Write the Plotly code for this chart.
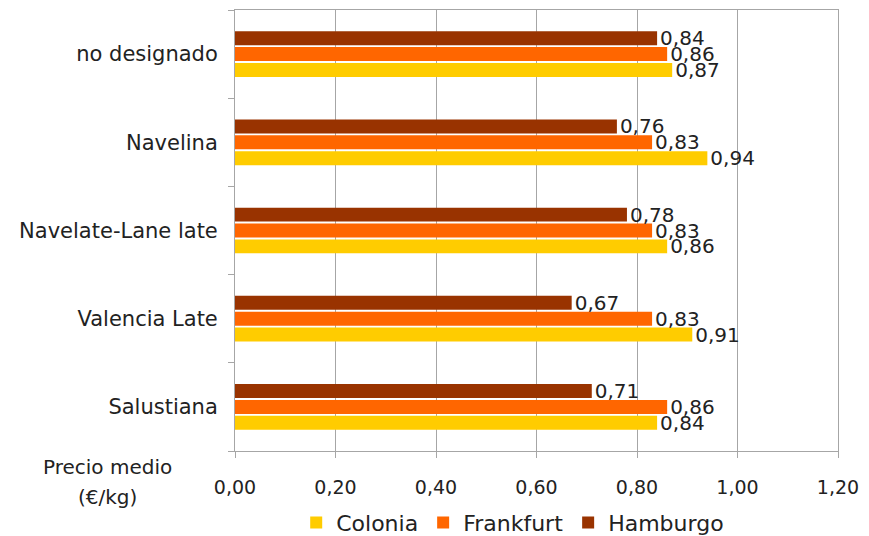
import plotly.graph_objects as go

categories = ["Salustiana", "Valencia Late", "Navelate-Lane late", "Navelina", "no designado"]
colonia = [0.84, 0.91, 0.86, 0.94, 0.87]
frankfurt = [0.86, 0.83, 0.83, 0.83, 0.86]
hamburgo = [0.71, 0.67, 0.78, 0.76, 0.84]
x_ticks = [0, 0.2, 0.4, 0.6, 0.8, 1.0, 1.2]

FONT = "DejaVu Sans"
TEXT = "#222222"
AXIS = "#A6A6A6"

series = [
    ("Colonia", colonia, "#FFCC00"),
    ("Frankfurt", frankfurt, "#FF6600"),
    ("Hamburgo", hamburgo, "#993300"),
]

fig = go.Figure()
for name, vals, color in series:
    fig.add_trace(go.Bar(
        y=categories, x=vals, name=name, orientation="h",
        marker=dict(color=color, line=dict(width=0)),
        texttemplate="%{x:.2f}", textposition="outside",
        constraintext="none", cliponaxis=False,
        textfont=dict(family=FONT, size=20, color=TEXT),
    ))

fig.update_layout(
    width=869, height=536,
    margin=dict(l=235, r=31, t=10, b=85, autoexpand=False),
    paper_bgcolor="white", plot_bgcolor="white",
    barmode="group", bargap=0.46, bargroupgap=0.12,
    separators=",.",
    font=dict(family=FONT, size=19, color=TEXT),
    legend=dict(orientation="h", xref="container", x=0.59, xanchor="center",
                yref="container", y=0.025, yanchor="middle",
                font=dict(family=FONT, size=22, color=TEXT), traceorder="normal",
                itemwidth=30),
)

# axis title placed to the left of the value axis, on two lines
fig.add_annotation(text="Precio medio", xref="paper", yref="paper", x=-0.212, y=-0.036,
                   xanchor="center", yanchor="middle", showarrow=False,
                   font=dict(family=FONT, size=20, color=TEXT))
fig.add_annotation(text="(€/kg)", xref="paper", yref="paper", x=-0.212, y=-0.104,
                   xanchor="center", yanchor="middle", showarrow=False,
                   font=dict(family=FONT, size=20, color=TEXT))

fig.update_xaxes(
    range=[0, 1.2], tickvals=x_ticks, tickformat=".2f",
    showgrid=True, gridcolor=AXIS, gridwidth=1,
    showline=True, linecolor=AXIS, linewidth=1, mirror=True,
    ticks="outside", ticklen=6, tickcolor=AXIS,
    ticklabelstandoff=13, zeroline=False,
    tickfont=dict(family=FONT, size=19, color=TEXT),
)
fig.update_yaxes(
    categoryorder="array", categoryarray=categories,
    showline=True, linecolor=AXIS, linewidth=1, mirror=True,
    ticks="outside", ticklen=6, tickcolor=AXIS, tickson="boundaries",
    ticklabelstandoff=12,
    tickfont=dict(family=FONT, size=21, color=TEXT),
)

fig.write_html("out.html")
